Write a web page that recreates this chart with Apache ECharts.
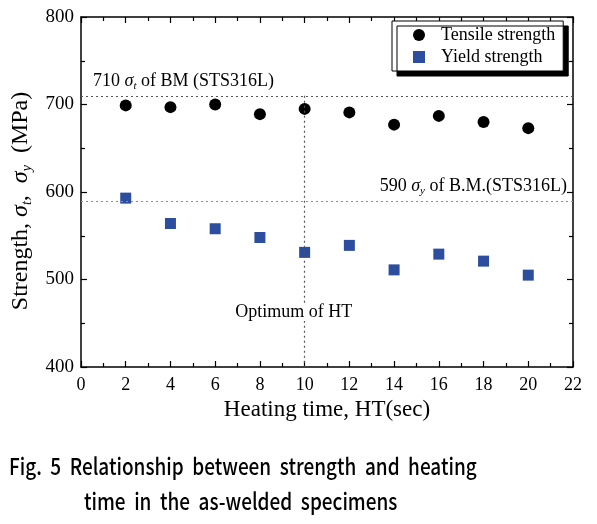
<!DOCTYPE html>
<html><head><meta charset="utf-8">
<script src="https://cdn.jsdelivr.net/npm/echarts@6/dist/echarts.min.js"></script>
<style>html,body{margin:0;padding:0;background:#fff}#c{width:597px;height:524px}</style>
</head><body><div id="c"></div>
<script>
const heatingTime = [2, 4, 6, 8, 10, 12, 14, 16, 18, 20];
const tensileStrength = [699, 697, 700, 689, 695, 691, 677, 687, 680, 673];
const yieldStrength = [593, 564, 558, 548, 531, 539, 511, 529, 521, 505];
const tensileBM = 710;
const yieldBM = 590;
const optimumHT = 10;
const xRange = [0, 22];
const yRange = [400, 800];
const captionLines = ['Fig.  5  Relationship  between  strength  and  heating', 'time  in  the  as-welded  specimens'];

const serif = 'Liberation Serif';
const chart = echarts.init(document.getElementById('c'));
const axisCommon = {
  axisLine: {show: true, onZero: false, lineStyle: {color: '#000', width: 1.5}},
  axisTick: {show: true, inside: true, length: 6, lineStyle: {color: '#000', width: 1.2}},
  minorTick: {show: true, splitNumber: 2, length: 4, lineStyle: {color: '#000', width: 1.2}},
  splitLine: {show: false}
};
const rich = {
  i: {fontFamily: serif, fontStyle: 'italic', fontSize: 18, color: '#000'},
  sub: {fontFamily: serif, fontStyle: 'italic', fontSize: 11, color: '#000', padding: [10, 0, 0, 0]},
  n: {fontFamily: serif, fontSize: 18, color: '#000'}
};
const capFont = '500 23px "Noto Sans CJK KR"';
chart.setOption({
  animation: false,
  backgroundColor: '#fff',
  graphic: [
    {type: 'text', x: 9, y: 466, scaleX: 0.825, style: {text: captionLines[0], font: capFont, fill: '#000', verticalAlign: 'middle'}},
    {type: 'text', x: 84, y: 501, scaleX: 0.825, style: {text: captionLines[1], font: capFont, fill: '#000', verticalAlign: 'middle'}}
  ],
  grid: {left: 81, top: 17, right: 24, bottom: 157},
  legend: {
    orient: 'vertical', left: 392, top: 21,
    backgroundColor: '#fff', borderColor: '#000', borderWidth: 1,
    shadowColor: '#000', shadowOffsetX: 5, shadowOffsetY: 5, shadowBlur: 0,
    padding: [5, 8, 5, 21], itemGap: 4, itemWidth: 12, itemHeight: 12,
    textStyle: {fontFamily: serif, fontSize: 18, color: '#000', padding: [0, 0, 0, 11]},
    data: [{name: 'Tensile strength', icon: 'circle'}, {name: 'Yield strength', icon: 'rect'}]
  },
  xAxis: [
    Object.assign({type: 'value', min: xRange[0], max: xRange[1], interval: 2, position: 'bottom',
      name: 'Heating time, HT(sec)', nameLocation: 'middle', nameGap: 30,
      nameTextStyle: {fontFamily: serif, fontSize: 23, color: '#000'},
      axisLabel: {fontFamily: serif, fontSize: 18, color: '#000', margin: 9}}, axisCommon),
    Object.assign({type: 'value', min: xRange[0], max: xRange[1], interval: 2, position: 'top',
      axisLabel: {show: false}}, axisCommon)
  ],
  yAxis: [
    Object.assign({type: 'value', min: yRange[0], max: yRange[1], interval: 100, position: 'left',
      name: 'Strength, {i|σ}{sub|t}{n|,}  {i|σ}{sub|y}{n|  (MPa)}', nameLocation: 'middle', nameGap: 47, nameRotate: 90,
      nameTextStyle: {fontFamily: serif, fontSize: 24, color: '#000', padding: [0, 18, 0, 0], rich: {
        i: {fontFamily: serif, fontStyle: 'italic', fontSize: 24, color: '#000'},
        sub: {fontFamily: serif, fontStyle: 'italic', fontSize: 14, color: '#000', padding: [12, 0, 0, 0]},
        n: {fontFamily: serif, fontSize: 24, color: '#000'}
      }},
      axisLabel: {fontFamily: serif, fontSize: 19, color: '#000', margin: 7}}, axisCommon),
    Object.assign({type: 'value', min: yRange[0], max: yRange[1], interval: 100, position: 'right',
      axisLabel: {show: false}}, axisCommon)
  ],
  series: [
    {
      name: 'Tensile strength', type: 'scatter', symbol: 'circle', symbolSize: 12,
      itemStyle: {color: '#000', opacity: 1},
      data: heatingTime.map((x, i) => [x, tensileStrength[i]]),
      markLine: {
        silent: true, symbol: 'none',
        data: [
          [{coord: [xRange[0], tensileBM], lineStyle: {color: '#555', type: [2, 3], width: 1.2},
            label: {show: true, position: 'insideStartTop', distance: [12, 4],
              formatter: '{n|710 }{i|σ}{sub|t}{n| of BM (STS316L)}', rich: rich}},
           {coord: [xRange[1], tensileBM]}],
          [{coord: [xRange[0], yieldBM], lineStyle: {color: '#7f8fb5', type: [2, 3], width: 1.2},
            label: {show: true, position: 'insideEndTop', distance: [6, 4],
              formatter: '{n|590 }{i|σ}{sub|y}{n| of B.M.(STS316L)}', rich: rich}},
           {coord: [xRange[1], yieldBM]}],
          [{coord: [optimumHT, tensileBM], lineStyle: {color: '#555', type: [2, 3], width: 1.2},
            label: {show: false}},
           {coord: [optimumHT, yRange[0]]}]
        ]
      },
      markPoint: {
        silent: true, symbol: 'circle', symbolSize: 0,
        data: [{coord: [optimumHT, 463], label: {show: true, position: 'inside', offset: [-11, 0], formatter: 'Optimum of HT',
          fontFamily: serif, fontSize: 18, color: '#000', backgroundColor: '#fff', padding: [0, 1]}}]
      }
    },
    {
      name: 'Yield strength', type: 'scatter', symbol: 'rect', symbolSize: 11,
      itemStyle: {color: '#2d4e9e', opacity: 1},
      data: heatingTime.map((x, i) => [x, yieldStrength[i]])
    }
  ]
});
</script></body></html>
